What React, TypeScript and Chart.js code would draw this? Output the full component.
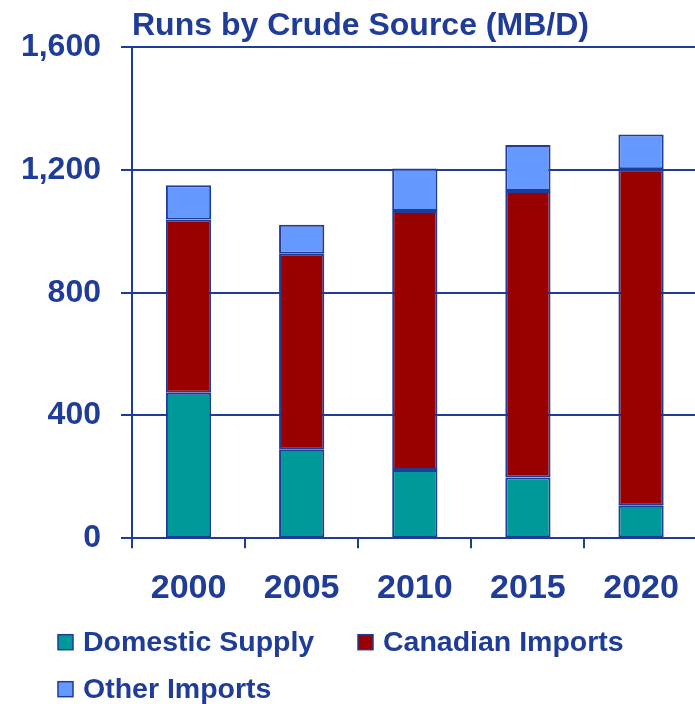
import React, { useEffect, useRef } from 'react';
import { Chart, registerables } from 'chart.js';

Chart.register(...registerables);

const years = ['2000', '2005', '2010', '2015', '2020'];
const domesticSupply = [474, 288, 222, 198, 106];
const canadianImports = [565, 639, 845, 934, 1097];
const otherImports = [112, 95, 138, 150, 113];
const yTicks = [0, 400, 800, 1200, 1600];
const seriesNames = ['Domestic Supply', 'Canadian Imports', 'Other Imports'];
const chartTitle = 'Runs by Crude Source (MB/D)';

const NAVY = '#1F3C98';
const FONT = "'Liberation Sans', Arial, Helvetica, sans-serif";
const COLORS = ['#009999', '#990000', '#6699FF'];

const legendPlugin = {
  id: 'bottomLegend',
  afterDraw(chart: any) {
    const { ctx, chartArea } = chart;
    const slots = [
      [-74, 104],
      [226, 104],
      [-74, 151],
    ];
    ctx.save();
    ctx.font = `bold 28.5px ${FONT}`;
    ctx.textBaseline = 'middle';
    ctx.textAlign = 'left';
    chart.data.datasets.forEach((ds: any, i: number) => {
      const [dx, dy] = slots[i];
      const x = chartArea.left + dx;
      const y = chartArea.bottom + dy;
      ctx.fillStyle = ds.backgroundColor;
      ctx.fillRect(x, y - 7.5, 15, 15);
      ctx.strokeStyle = NAVY;
      ctx.lineWidth = 1.5;
      ctx.strokeRect(x, y - 7.5, 15, 15);
      ctx.fillStyle = NAVY;
      ctx.fillText(ds.label, x + 25, y + 1);
    });
    ctx.restore();
  },
};

export default function App() {
  const ref = useRef<HTMLCanvasElement>(null);
  useEffect(() => {
    if (!ref.current) return;
    const series = [domesticSupply, canadianImports, otherImports];
    const chart = new Chart(ref.current, {
      type: 'bar',
      data: {
        labels: years,
        datasets: series.map((d, i) => ({
          label: seriesNames[i],
          data: d,
          backgroundColor: COLORS[i],
          borderColor: NAVY,
          borderWidth: 2,
          borderSkipped: false,
          barPercentage: 0.4,
          categoryPercentage: 1.0,
        })),
      },
      options: {
        responsive: false,
        animation: false,
        layout: { padding: { top: 0, bottom: 75, left: 0, right: 0 } },
        plugins: {
          legend: { display: false },
          tooltip: { enabled: false },
          title: {
            display: true,
            text: chartTitle,
            align: 'start',
            fullSize: false,
            color: NAVY,
            font: { family: FONT, size: 32, weight: 'bold' },
            padding: { top: 7, bottom: 2 },
          },
        },
        scales: {
          x: {
            stacked: true,
            offset: true,
            grid: {
              display: true,
              drawOnChartArea: false,
              drawTicks: true,
              tickLength: 10,
              color: NAVY,
              lineWidth: 2,
              offset: true,
            },
            border: { display: true, color: NAVY, width: 2 },
            ticks: {
              color: NAVY,
              font: { family: FONT, size: 34, weight: 'bold' },
              padding: 20,
              maxRotation: 0,
            },
          },
          y: {
            stacked: true,
            min: 0,
            max: 1600,
            afterBuildTicks: (s: any) => {
              s.ticks = yTicks.map((v) => ({ value: v }));
            },
            afterFit: (s: any) => {
              s.width = 112;
            },
            grid: { color: NAVY, lineWidth: 2, tickLength: 11 },
            border: { display: true, color: NAVY, width: 2 },
            ticks: {
              color: NAVY,
              font: { family: FONT, size: 32, weight: 'bold' },
              padding: 20,
              callback: (v: any) => Number(v).toLocaleString('en-US'),
            },
          },
        },
      },
      plugins: [legendPlugin],
    });
    return () => chart.destroy();
  }, []);

  return (
    <div
      style={{
        position: 'fixed',
        left: 0,
        top: 0,
        width: 695,
        height: 704,
        overflow: 'hidden',
        background: '#fff',
      }}
    >
      <div style={{ position: 'absolute', left: 20, top: 0 }}>
        <canvas ref={ref} width={679} height={704} />
      </div>
    </div>
  );
}
